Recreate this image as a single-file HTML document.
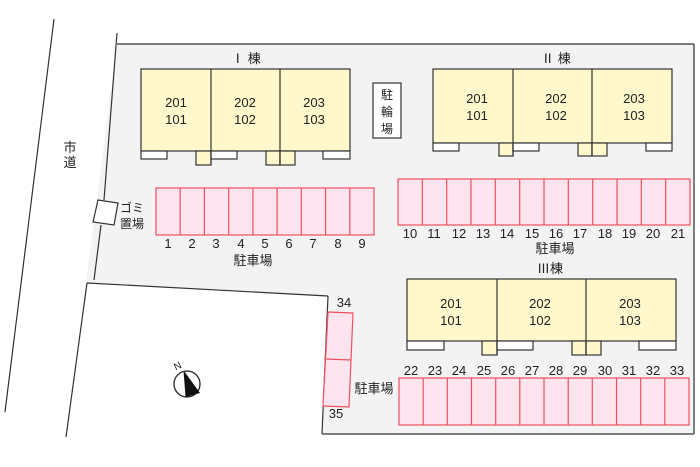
<!DOCTYPE html>
<html><head><meta charset="utf-8"><style>
html,body{margin:0;padding:0;background:#fff;}
svg{display:block}
text{font-family:"Liberation Sans","Noto Sans CJK JP",sans-serif;fill:#222;}
</style></head><body>
<svg width="700" height="467" viewBox="0 0 700 467" xmlns="http://www.w3.org/2000/svg">
<polygon points="117,44 694,44 694,434 322,434 328,296 86,283 117,44" fill="#f3f3f3"/>
<line x1="117" y1="44" x2="694" y2="44" stroke="#555" stroke-width="1.5"/>
<line x1="694" y1="44" x2="694" y2="434" stroke="#555" stroke-width="1.5"/>
<line x1="322" y1="434" x2="694" y2="434" stroke="#555" stroke-width="1.5"/>
<line x1="328" y1="296" x2="322" y2="434" stroke="#333" stroke-width="1.2"/>
<line x1="87" y1="283" x2="328" y2="296" stroke="#333" stroke-width="1.2"/>
<line x1="87" y1="283" x2="66" y2="437" stroke="#333" stroke-width="1.2"/>
<line x1="54" y1="19" x2="5" y2="412" stroke="#333" stroke-width="1.2"/>
<line x1="117" y1="33" x2="104" y2="200" stroke="#333" stroke-width="1.2"/>
<line x1="101" y1="225" x2="94" y2="280" stroke="#333" stroke-width="1.2"/>
<text x="70" y="152" font-size="13" text-anchor="middle">市</text>
<text x="70" y="167" font-size="13" text-anchor="middle">道</text>
<polygon points="98,200 118,203 114,225 93,222" fill="#fff" stroke="#333" stroke-width="1.2"/>
<text x="132" y="212" font-size="12" text-anchor="middle">ゴミ</text>
<text x="132" y="228" font-size="12" text-anchor="middle">置場</text>
<rect x="373" y="83" width="28" height="55" fill="#fff" stroke="#333" stroke-width="1.2"/>
<text x="387" y="99" font-size="12" text-anchor="middle">駐</text>
<text x="387" y="116" font-size="12" text-anchor="middle">輪</text>
<text x="387" y="133" font-size="12" text-anchor="middle">場</text>

<g stroke="#333" stroke-width="1.2">
<rect x="141" y="69" width="209" height="82" fill="#fef8cc"/>
<rect x="196" y="151" width="15" height="14" fill="#fef8cc"/>
<rect x="266" y="151" width="14" height="14" fill="#fef8cc"/>
<rect x="280" y="151" width="15" height="14" fill="#fef8cc"/>
<rect x="141" y="151" width="26" height="8" fill="#fff"/>
<rect x="211" y="151" width="26" height="8" fill="#fff"/>
<rect x="323" y="151" width="27" height="8" fill="#fff"/>
<line x1="211" y1="69" x2="211" y2="165"/><line x1="280" y1="69" x2="280" y2="165"/>
<rect x="433" y="69" width="239" height="74" fill="#fef8cc"/>
<rect x="499" y="143" width="14" height="13" fill="#fef8cc"/>
<rect x="578" y="143" width="14" height="13" fill="#fef8cc"/>
<rect x="592" y="143" width="15" height="13" fill="#fef8cc"/>
<rect x="433" y="143" width="26" height="8" fill="#fff"/>
<rect x="513" y="143" width="26" height="8" fill="#fff"/>
<rect x="646" y="143" width="26" height="8" fill="#fff"/>
<line x1="513" y1="69" x2="513" y2="156"/><line x1="592" y1="69" x2="592" y2="156"/>
<rect x="407" y="279" width="269" height="62" fill="#fef8cc"/>
<rect x="482" y="341" width="15" height="14" fill="#fef8cc"/>
<rect x="572" y="341" width="14" height="14" fill="#fef8cc"/>
<rect x="586" y="341" width="15" height="14" fill="#fef8cc"/>
<rect x="407" y="341" width="37" height="9" fill="#fff"/>
<rect x="497" y="341" width="36" height="9" fill="#fff"/>
<rect x="639" y="341" width="37" height="9" fill="#fff"/>
<line x1="497" y1="279" x2="497" y2="355"/><line x1="586" y1="279" x2="586" y2="355"/>
</g>
<g font-size="13" text-anchor="middle">
<text x="246" y="63">Ⅰ 棟</text>
<text x="176" y="107">201</text><text x="176" y="124">101</text>
<text x="245" y="107">202</text><text x="245" y="124">102</text>
<text x="314" y="107">203</text><text x="314" y="124">103</text>
<text x="556" y="63">Ⅱ 棟</text>
<text x="477" y="103">201</text><text x="477" y="120">101</text>
<text x="556" y="103">202</text><text x="556" y="120">102</text>
<text x="634" y="103">203</text><text x="634" y="120">103</text>
<text x="550" y="273">Ⅲ棟</text>
<text x="451" y="308">201</text><text x="451" y="325">101</text>
<text x="540" y="308">202</text><text x="540" y="325">102</text>
<text x="630" y="308">203</text><text x="630" y="325">103</text>
</g>
<g fill="#fde4ee" stroke="#f0505f" stroke-width="1.2">
<rect x="156" y="188" width="218" height="47"/>
<rect x="398" y="179" width="292" height="46"/>
<rect x="399" y="378" width="290" height="47"/>
<polygon points="328,312 353,313 349,407 323,406"/>
<line x1="326" y1="359" x2="351" y2="360"/>
</g>
<g stroke="#f0505f" stroke-width="1.2">
<line x1="180.2" y1="188" x2="180.2" y2="235"/><line x1="204.4" y1="188" x2="204.4" y2="235"/><line x1="228.7" y1="188" x2="228.7" y2="235"/><line x1="252.9" y1="188" x2="252.9" y2="235"/><line x1="277.1" y1="188" x2="277.1" y2="235"/><line x1="301.3" y1="188" x2="301.3" y2="235"/><line x1="325.6" y1="188" x2="325.6" y2="235"/><line x1="349.8" y1="188" x2="349.8" y2="235"/>
<line x1="422.3" y1="179" x2="422.3" y2="225"/><line x1="446.7" y1="179" x2="446.7" y2="225"/><line x1="471" y1="179" x2="471" y2="225"/><line x1="495.3" y1="179" x2="495.3" y2="225"/><line x1="519.7" y1="179" x2="519.7" y2="225"/><line x1="544" y1="179" x2="544" y2="225"/><line x1="568.3" y1="179" x2="568.3" y2="225"/><line x1="592.7" y1="179" x2="592.7" y2="225"/><line x1="617" y1="179" x2="617" y2="225"/><line x1="641.3" y1="179" x2="641.3" y2="225"/><line x1="665.7" y1="179" x2="665.7" y2="225"/>
<line x1="423.2" y1="378" x2="423.2" y2="425"/><line x1="447.3" y1="378" x2="447.3" y2="425"/><line x1="471.5" y1="378" x2="471.5" y2="425"/><line x1="495.7" y1="378" x2="495.7" y2="425"/><line x1="519.8" y1="378" x2="519.8" y2="425"/><line x1="544" y1="378" x2="544" y2="425"/><line x1="568.2" y1="378" x2="568.2" y2="425"/><line x1="592.3" y1="378" x2="592.3" y2="425"/><line x1="616.5" y1="378" x2="616.5" y2="425"/><line x1="640.7" y1="378" x2="640.7" y2="425"/><line x1="664.8" y1="378" x2="664.8" y2="425"/>
</g>
<g font-size="13" text-anchor="middle">
<text x="168" y="248">1</text><text x="192" y="248">2</text><text x="216" y="248">3</text><text x="241" y="248">4</text><text x="265" y="248">5</text><text x="289" y="248">6</text><text x="313" y="248">7</text><text x="338" y="248">8</text><text x="362" y="248">9</text>
<text x="253" y="265">駐車場</text>
<text x="410" y="238">10</text><text x="434" y="238">11</text><text x="459" y="238">12</text><text x="483" y="238">13</text><text x="507" y="238">14</text><text x="532" y="238">15</text><text x="556" y="238">16</text><text x="580" y="238">17</text><text x="605" y="238">18</text><text x="629" y="238">19</text><text x="653" y="238">20</text><text x="678" y="238">21</text>
<text x="555" y="253">駐車場</text>
<text x="411" y="375">22</text><text x="435" y="375">23</text><text x="459" y="375">24</text><text x="484" y="375">25</text><text x="508" y="375">26</text><text x="532" y="375">27</text><text x="556" y="375">28</text><text x="580" y="375">29</text><text x="605" y="375">30</text><text x="629" y="375">31</text><text x="653" y="375">32</text><text x="677" y="375">33</text>
<text x="374" y="393">駐車場</text>
<text x="344" y="307">34</text><text x="336" y="418">35</text>
</g>
<circle cx="187" cy="384" r="13" fill="#fff" stroke="#222" stroke-width="1.3"/>
<line x1="184" y1="371" x2="186" y2="397" stroke="#222" stroke-width="1"/>
<polygon points="184,371 200,393 186,397" fill="#111"/>
<text x="179" y="369" font-size="10" transform="rotate(-25 179 369)" text-anchor="middle">N</text>
</svg>
</body></html>
